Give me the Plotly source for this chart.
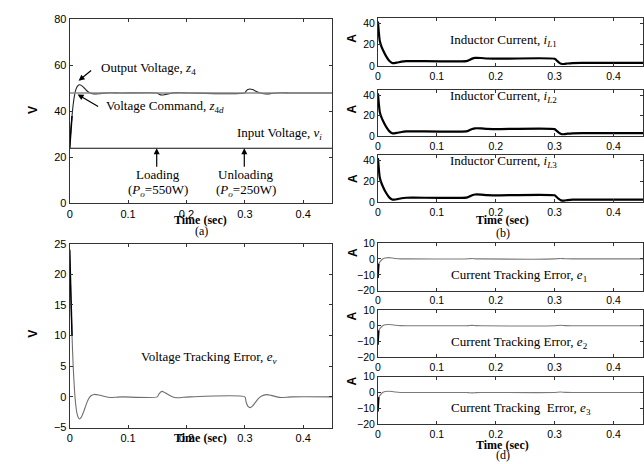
import plotly.graph_objects as go

W, H = 644, 464

# ---------------- data ----------------
# (a) / (c) voltage quantities, shared time base (sec)
t_v = [0, 0.002, 0.004, 0.006, 0.008, 0.010, 0.013, 0.0165, 0.020, 0.024, 0.028,
       0.032, 0.036, 0.042, 0.050, 0.060, 0.070, 0.080, 0.090, 0.150, 0.153, 0.158,
       0.163, 0.170, 0.178, 0.186, 0.195, 0.205, 0.300, 0.302, 0.305, 0.309, 0.313,
       0.318, 0.323, 0.328, 0.337, 0.345, 0.355, 0.362, 0.372, 0.380, 0.450]
output_voltage = [24, 32, 38, 43, 46.5, 49, 50.9, 51.6, 51.3, 50.4, 49.3,
                  48.4, 47.85, 47.6, 47.7, 47.95, 48.1, 48.05, 48, 48, 47.5, 47.1,
                  47.3, 47.7, 48.05, 48.15, 48.05, 48, 48, 48.8, 49.5, 49.75, 49.5,
                  48.9, 48.3, 47.9, 47.63, 47.75, 48, 48.1, 48.05, 48, 48]
voltage_error = [24, 16, 10, 5, 1.5, -1, -2.9, -3.6, -3.3, -2.4, -1.3,
                 -0.4, 0.15, 0.4, 0.3, 0.05, -0.1, -0.05, 0, 0, 0.5, 0.9,
                 0.7, 0.3, -0.05, -0.15, -0.05, 0, 0, -0.8, -1.5, -1.75, -1.5,
                 -0.9, -0.3, 0.1, 0.37, 0.25, 0, -0.1, -0.05, 0, 0]
t_cmd = [0, 0.45]
voltage_command = [48, 48]
input_voltage = [24, 24]

# (b) inductor currents (A)
t_i = [0, 0.0015, 0.003, 0.0055, 0.0085, 0.014, 0.0195, 0.024, 0.028, 0.033,
       0.040, 0.048, 0.060, 0.150, 0.155, 0.160, 0.165, 0.175, 0.185, 0.200,
       0.300, 0.303, 0.307, 0.311, 0.316, 0.322, 0.330, 0.350, 0.450]
iL1 = [42, 32, 24, 19, 15, 9, 4.6, 2.8, 2.7, 3.2,
       4.0, 4.5, 4.6, 4.6, 5.6, 6.9, 7.6, 7.5, 7.0, 6.8,
       6.8, 5.4, 3.4, 2.0, 1.8, 2.3, 2.7, 2.8, 2.8]
iL2 = [42, 32, 24, 19, 15, 9, 4.6, 2.8, 2.7, 3.2,
       4.0, 4.5, 4.6, 4.6, 5.6, 6.9, 7.6, 7.5, 7.0, 6.8,
       6.8, 5.4, 3.4, 2.0, 1.8, 2.3, 2.7, 2.8, 2.8]
iL3 = [42, 32, 24, 19, 15, 9, 4.6, 2.8, 2.7, 3.2,
       4.0, 4.5, 4.6, 4.6, 5.6, 6.9, 7.6, 7.5, 7.0, 6.8,
       6.8, 5.4, 3.4, 2.0, 1.8, 2.3, 2.7, 2.8, 2.8]

# (d) current tracking errors (A)
t_e = [0, 0.0015, 0.004, 0.008, 0.012, 0.018, 0.024, 0.030, 0.038, 0.050,
       0.150, 0.155, 0.160, 0.166, 0.175, 0.300, 0.305, 0.310, 0.318, 0.330, 0.450]
e1 = [-12, -3, -1.5, 0, 0.6, 0.8, 0.6, 0.3, 0.05, 0,
      0, 0.15, 0.25, 0.05, 0, 0, 0.2, 0.3, 0.1, 0, 0]
e2 = [-12, -3, -1.5, 0, 0.6, 0.8, 0.6, 0.3, 0.05, 0,
      0, 0.15, 0.25, 0.05, 0, 0, 0.2, 0.3, 0.1, 0, 0]
e3 = [-12, -3, -1.5, 0, 0.6, 0.8, 0.6, 0.3, 0.05, 0,
      0, -0.15, -0.25, -0.05, 0, 0, 0.2, 0.3, 0.1, 0, 0]

x_tickvals = [0, 0.1, 0.2, 0.3, 0.4]
x_ticktext = ['0', '0.1', '0.2', '0.3', '0.4']

# ---------------- figure ----------------
SANS = 'Liberation Sans, Arial, sans-serif'
SERIF = 'Liberation Serif, Times New Roman, serif'
AX = '#333333'

fig = go.Figure()

def line(x, y, n, color, width, shape='spline'):
    fig.add_trace(go.Scatter(x=x, y=y, mode='lines', xaxis='x' + ('' if n == 1 else str(n)),
                             yaxis='y' + ('' if n == 1 else str(n)),
                             line=dict(color=color, width=width, shape=shape, smoothing=0.6),
                             hoverinfo='skip'))

# (a)
line(t_v, output_voltage, 1, '#222222', 1.1)
line(t_v[:3], output_voltage[:3], 1, '#000000', 1.5, 'linear')
line(t_cmd, voltage_command, 1, '#8a8a8a', 1.3, 'linear')
line(t_cmd, input_voltage, 1, '#111111', 1.1, 'linear')
# (b)
for n, cur in zip([2, 3, 4], [iL1, iL2, iL3]):
    line(t_i, cur, n, '#000000', 2.2)
# (c)
line(t_v, voltage_error, 5, '#6e6e6e', 1.1)
line(t_v[:3], voltage_error[:3], 5, '#000000', 1.5, 'linear')
# (d)
for n, err in zip([6, 7, 8], [e1, e2, e3]):
    line(t_e, err, n, '#7a7a7a', 1.1)
    line(t_e[:2], err[:2], n, '#000000', 1.6, 'linear')

def ydom(top_px, bot_px):
    return [1 - bot_px / H, 1 - top_px / H]

XL = [67 / W, 331 / W]
XR = [376.7 / W, 643 / W]
panels = {
    1: (XL, ydom(13.7, 202.7), [0, 80], [0, 20, 40, 60, 80], 11),
    2: (XR, ydom(12.7, 61.5), [0, 45], [0, 20, 40], 10.5),
    3: (XR, ydom(86.5, 133.5), [0, 45], [0, 20, 40], 10.5),
    4: (XR, ydom(153, 201.7), [0, 45], [0, 20, 40], 10.5),
    5: (XL, ydom(244, 432.7), [-5, 25], [-5, 0, 5, 10, 15, 20, 25], 11),
    6: (XR, ydom(243.3, 292.3), [-20, 10], [-20, -10, 0, 10], 10.5),
    7: (XR, ydom(312, 360.7), [-20, 10], [-20, -10, 0, 10], 10.5),
    8: (XR, ydom(380.5, 429.3), [-20, 10], [-20, -10, 0, 10], 10.5),
}

layout = dict(width=W, height=H, margin=dict(l=0, r=0, t=0, b=0),
              paper_bgcolor='white', plot_bgcolor='white', showlegend=False)
common = dict(ticks='inside', ticklen=3, tickcolor=AX, showline=True, linecolor=AX,
              linewidth=1, mirror='ticks', showgrid=False, zeroline=False)
for n, (xd, yd, yr, yt, fs) in panels.items():
    s = '' if n == 1 else str(n)
    layout['xaxis' + s] = dict(domain=xd, range=[0, 0.45], tickvals=x_tickvals,
                               ticktext=x_ticktext, anchor='y' + s,
                               tickfont=dict(family=SANS, size=fs, color='black'), **common)
    layout['yaxis' + s] = dict(domain=yd, range=yr, tickvals=yt, anchor='x' + s,
                               tickfont=dict(family=SANS, size=fs, color='black'), **common)
fig.update_layout(**layout)

ann = []

def txt(text, x, y, size=13, xanchor='center', family=SERIF, angle=0):
    ann.append(dict(text=text, x=x / W, y=1 - y / H, xref='paper', yref='paper',
                    xanchor=xanchor, yanchor='middle', showarrow=False, textangle=angle,
                    font=dict(family=family, size=size, color='black')))

def arrow(n, x, y, ax, ay):
    s = '' if n == 1 else str(n)
    ann.append(dict(text='', x=x, y=y, xref='x' + s, yref='y' + s, ax=ax, ay=ay,
                    showarrow=True, arrowhead=2, arrowsize=1, arrowwidth=1.2,
                    arrowcolor='black', standoff=0))

# (a)
txt('Output Voltage, <i>z</i><sub>4</sub>', 96, 64.3, xanchor='left')
arrow(1, 0.0153, 53.3, 14, -11.5)
txt('Voltage Command, <i>z</i><sub>4<i>d</i></sub>', 101, 102.7, xanchor='left')
arrow(1, 0.0136, 47.4, 22, 13)
txt('Input Voltage, <i>v</i><sub><i>i</i></sub>', 322, 131, xanchor='right')
txt('Loading', 156, 172.7)
txt('(<i>P</i><sub><i>o</i></sub>=550W)', 156, 189.3)
arrow(1, 0.149, 24, 0, 20)
txt('Unloading', 244, 172.7)
txt('(<i>P</i><sub><i>o</i></sub>=250W)', 244, 189.3)
arrow(1, 0.299, 24, 0, 20)
txt('<b>Time (sec)</b>', 198, 220, size=12)
txt('(a)', 199, 231, size=12)
txt('<b>V</b>', 30, 107, size=12, family=SANS, angle=-90)

# (b)
txt('Inductor Current, <i>i</i><sub><i>L</i>1</sub>', 502.7, 35.7)
txt('Inductor Current, <i>i</i><sub><i>L</i>2</sub>', 502.7, 92.7)
txt('Inductor Current, <i>i</i><sub><i>L</i>3</sub>', 502.7, 159.3)
for yy in [33.3, 106, 177.3]:
    txt('<b>A</b>', 351, yy, size=12, family=SANS, angle=-90)
txt('<b>Time (sec)</b>', 502, 220, size=12)
txt('(b)', 502.7, 233, size=12)

# (c)
txt('Voltage Tracking Error, <i>e</i><sub><i>v</i></sub>', 136.7, 361, xanchor='left')
txt('<b>V</b>', 30, 336.7, size=12, family=SANS, angle=-90)
txt('<b>Time (sec)</b>', 198, 443, size=12)

# (d)
txt('Current Tracking Error, <i>e</i><sub>1</sub>', 448, 276.7, xanchor='left')
txt('Current Tracking Error, <i>e</i><sub>2</sub>', 448.5, 345, xanchor='left')
txt('Current Tracking  Error, <i>e</i><sub>3</sub>', 448, 413.3, xanchor='left')
for yy in [253.3, 318.3, 385]:
    txt('<b>A</b>', 351, yy, size=12, family=SANS, angle=-90)
txt('<b>Time (sec)</b>', 502, 451, size=12)
txt('(d)', 502.7, 461, size=12)

fig.update_layout(annotations=ann)
fig.write_html('out.html', config={'displayModeBar': False},
               post_script="document.body.style.margin='0';document.body.style.overflow='hidden';")
